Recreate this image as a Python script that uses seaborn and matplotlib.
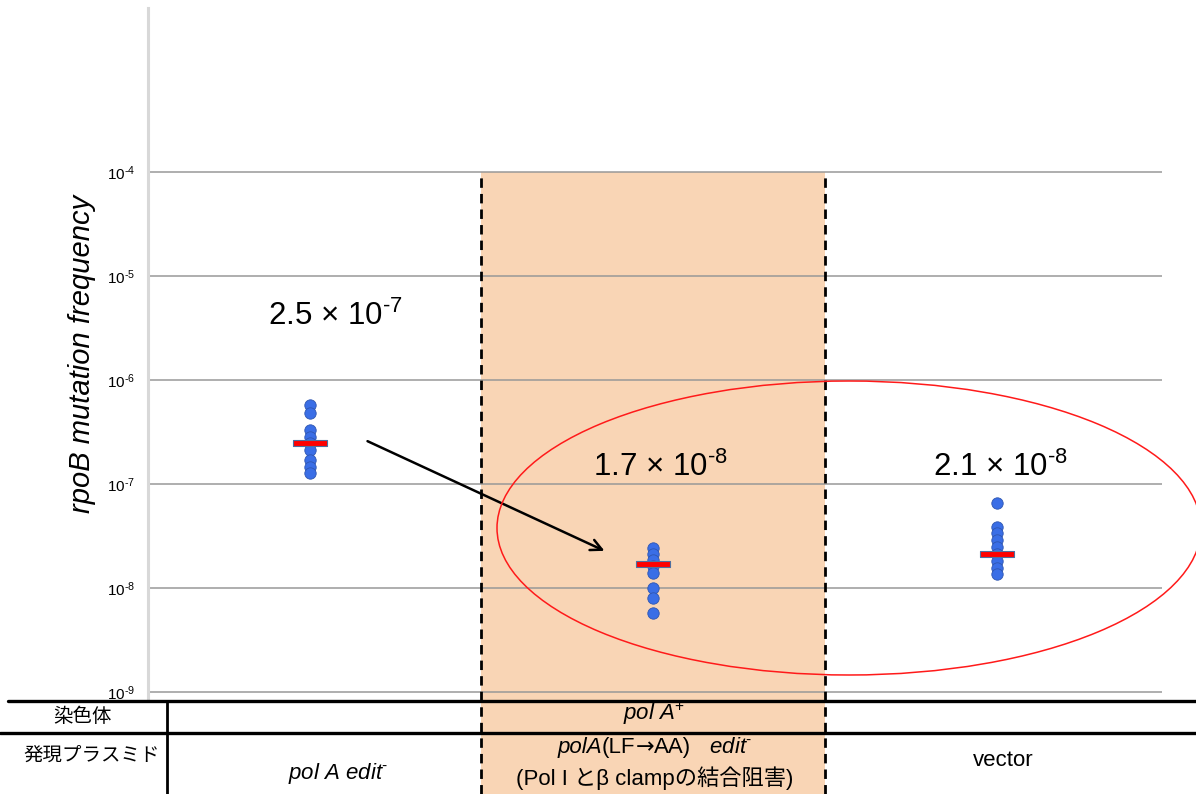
import numpy as np
import pandas as pd
import matplotlib
matplotlib.use("Agg")
import matplotlib.pyplot as plt
from matplotlib.patches import Ellipse, Rectangle, FancyArrowPatch
from matplotlib.path import Path
import matplotlib.transforms as mtrans
import seaborn as sns

# ---- data -------------------------------------------------------------
categories = ["pol A edit-", "polA(LF→AA) edit-", "vector"]
freq_edit = [5.75e-7, 4.8e-7, 3.3e-7, 2.83e-7, 2.48e-7, 2.12e-7, 1.7e-7, 1.46e-7, 1.28e-7]
freq_lfaa = [2.43e-8, 2.12e-8, 1.86e-8, 1.63e-8, 1.39e-8, 1.0e-8, 8.0e-9, 5.75e-9]
freq_vector = [6.6e-8, 3.86e-8, 3.38e-8, 2.9e-8, 2.48e-8, 2.12e-8, 1.82e-8, 1.56e-8, 1.36e-8]
summary_values = [2.5e-7, 1.7e-8, 2.1e-8]
summary_mantissa = ["2.5", "1.7", "2.1"]
summary_exponent = ["-7", "-8", "-8"]
ytick_values = [1e-9, 1e-8, 1e-7, 1e-6, 1e-5, 1e-4]
ytick_exponents = ["-9", "-8", "-7", "-6", "-5", "-4"]
row_headers = ["染色体", "発現プラスミド"]

df = pd.DataFrame({
    "plasmid": [categories[0]] * len(freq_edit)
    + [categories[1]] * len(freq_lfaa)
    + [categories[2]] * len(freq_vector),
    "freq": freq_edit + freq_lfaa + freq_vector,
})

# ---- style ------------------------------------------------------------
sns.set_theme(style="white")
plt.rcParams["font.family"] = ["Liberation Sans", "Noto Sans CJK JP", "DejaVu Sans"]
plt.rcParams["mathtext.fontset"] = "custom"
plt.rcParams["mathtext.rm"] = "Liberation Sans"
plt.rcParams["mathtext.it"] = "Liberation Sans:italic"
plt.rcParams["mathtext.bf"] = "Liberation Sans:bold"
plt.rcParams["mathtext.default"] = "rm"
plt.rcParams["text.color"] = "black"
plt.rcParams["axes.labelcolor"] = "black"
plt.rcParams["ytick.color"] = "black"

W, H = 1196, 794
fig = plt.figure(figsize=(W / 100, H / 100), dpi=100)


def fx(px):
    return px / W


def fy(py):
    return 1 - py / H


def sup(exp):
    # superscript exponent written with a short hyphen
    return r"$^{\text{" + exp + "}}$"


ax_left, ax_right, ax_top, ax_bottom = 148, 1162, 8, 700
ax = fig.add_axes([fx(ax_left), fy(ax_bottom), fx(ax_right - ax_left),
                   (ax_bottom - ax_top) / H])

ax.set_yscale("log")
ylo, yhi = 10 ** -9.077, 10 ** -2.423
ax.set_ylim(ylo, yhi)

# shaded column for the polA(LF→AA) strain, running down through the table
top_frac = (np.log10(1e-4) - np.log10(ylo)) / (np.log10(yhi) - np.log10(ylo))
bottom_frac = -(H - ax_bottom) / (ax_bottom - ax_top)
blend = mtrans.blended_transform_factory(ax.transData, ax.transAxes)
ax.add_patch(Rectangle((0.5, bottom_frac), 1.0, top_frac - bottom_frac,
                       transform=blend, facecolor="#f9d5b5", edgecolor="none",
                       clip_on=False, zorder=0))

# decade gridlines
for v in ytick_values:
    ax.axhline(v, color="#989898", lw=1.1, zorder=1)

sns.stripplot(data=df, x="plasmid", y="freq", order=categories, jitter=False,
              size=8.2, color="#3a6ee6", edgecolor="#2f56b0", linewidth=0.6,
              ax=ax, zorder=3)
ax.set_xlim(-0.47, 2.48)
ax.set_ylim(ylo, yhi)

# summary bars
bar_marker = Path([(-1, -0.19), (1, -0.19), (1, 0.19), (-1, 0.19), (-1, -0.19)],
                  [Path.MOVETO, Path.LINETO, Path.LINETO, Path.LINETO, Path.CLOSEPOLY])
ax.scatter(np.arange(len(categories)), summary_values, marker=bar_marker, s=610,
           facecolor="#ff0000", edgecolor="#4f6fa0", linewidth=0.8, zorder=4)

# dashed column borders
for xb in (0.5, 1.5):
    ax.plot([xb, xb], [bottom_frac, top_frac], transform=blend, color="black",
            lw=2.0, ls=(0, (3.4, 2.2)), clip_on=False, zorder=5)

ax.set_yticks(ytick_values)
ax.set_yticklabels(["10" + sup(e) for e in ytick_exponents], fontsize=11)
ax.minorticks_off()
ax.tick_params(axis="y", length=0, pad=9)
ax.set_xticks([])
ax.set_xlabel("")
ax.set_ylabel("rpoB mutation frequency", fontsize=21, style="italic", labelpad=8)
for s in ("top", "right", "bottom"):
    ax.spines[s].set_visible(False)
ax.spines["left"].set_color("#d8d8d8")
ax.spines["left"].set_linewidth(2.2)
ax.patch.set_alpha(0)

# value annotations
label_pos = [(335, 316), (660, 467), (1000, 467)]
for (px, py), m, e in zip(label_pos, summary_mantissa, summary_exponent):
    fig.text(fx(px), fy(py), f"{m} × 10" + sup(e), fontsize=22.5,
             ha="center", va="center")

# arrow from the edit- level down to the LF→AA level
fig.add_artist(FancyArrowPatch((fx(365), fy(440)), (fx(607), fy(552)),
                               transform=fig.transFigure,
                               arrowstyle="->,head_length=8,head_width=4",
                               color="black", lw=1.8, zorder=6))

# ellipse grouping the two low-frequency strains
fig.add_artist(Ellipse((fx(849), fy(528)), fx(704), 294 / H, transform=fig.transFigure,
                       facecolor="none", edgecolor="#ff1a1a", lw=1.1, zorder=6))

# ---- table beneath the axis ---------------------------------------------
def hline(y, x0, x1, lw):
    fig.add_artist(plt.Line2D([fx(x0), fx(x1)], [fy(y), fy(y)], color="black",
                              lw=lw, transform=fig.transFigure, zorder=7))


hline(701, 8, 1196, 2.4)
hline(733, 0, 1196, 2.4)
fig.add_artist(plt.Line2D([fx(167), fx(167)], [fy(701), fy(794)], color="black",
                          lw=2.0, transform=fig.transFigure, zorder=7))

fig.text(fx(83), fy(717), row_headers[0], fontsize=14, ha="center", va="center")
fig.text(fx(92), fy(756), row_headers[1], fontsize=14, ha="center", va="center")
fig.text(fx(654), fy(714), r"pol A$^{+}$", fontsize=16, style="italic",
         ha="center", va="center")
fig.text(fx(338), fy(773), "pol A edit" + sup("-"), fontsize=16, style="italic",
         ha="center", va="center")
fig.text(fx(1003), fy(760), "vector", fontsize=16, ha="center", va="center")

# mixed italic / upright label, laid out piece by piece on one baseline
renderer = fig.canvas.get_renderer()
pieces = [("polA", "italic", ["Liberation Sans"]),
          ("(LF", "normal", ["Liberation Sans"]),
          ("→", "normal", ["DejaVu Sans"]),
          ("AA)", "normal", ["Liberation Sans"]),
          ("   edit" + sup("-"), "italic", ["Liberation Sans"])]
texts = []
cursor = 0.0
for s, st, fam in pieces:
    t = fig.text(0, fy(753), s, fontsize=16, style=st, family=fam,
                 ha="left", va="baseline")
    w = t.get_window_extent(renderer).width
    texts.append((t, cursor))
    cursor += w
start = 655 - cursor / 2
for t, off in texts:
    t.set_x(fx(start + off))

fig.text(fx(655), fy(778), "(Pol I とβ clampの結合阻害)", fontsize=16,
         ha="center", va="center",
         family=["Liberation Sans", "Noto Sans CJK JP"])

fig.savefig("out.png", dpi=100)
